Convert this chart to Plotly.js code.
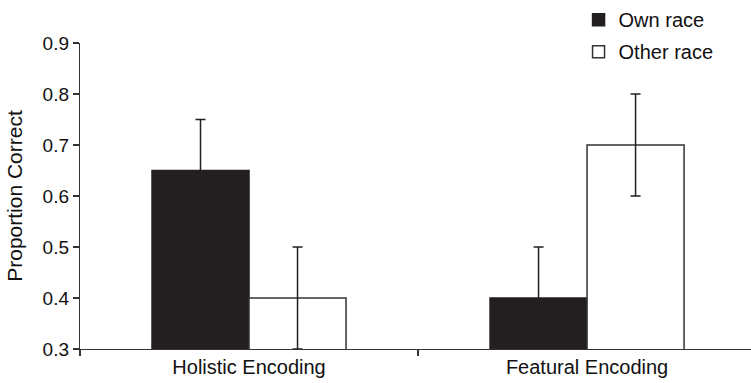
<!DOCTYPE html>
<html>
<head>
<meta charset="utf-8">
<script src="https://cdn.plot.ly/plotly-3.0.1.min.js"></script>
<style>html,body{margin:0;padding:0;background:#fff;}#chart{width:751px;height:383px;}</style>
</head>
<body>
<div id="chart"></div>
<script>
var categories = ["Holistic Encoding", "Featural Encoding"];
var ownRace = [0.65, 0.40];
var ownRaceErr = [0.10, 0.10];
var otherRace = [0.40, 0.70];
var otherRaceErr = [0.10, 0.10];
var seriesNames = ["Own race", "Other race"];
var yTicks = [0.3, 0.4, 0.5, 0.6, 0.7, 0.8, 0.9];

var FONT = "Liberation Sans, Arial, Helvetica, sans-serif";
var INK = "#231f20";

var traces = [
  {
    type: "bar", name: seriesNames[0], x: categories, y: ownRace,
    marker: {color: INK, line: {color: INK, width: 1.5}},
    error_y: {type: "data", array: ownRaceErr, visible: true, color: INK, thickness: 1.5, width: 5},
    legendgroup: "a"
  },
  {
    type: "bar", name: seriesNames[1], x: categories, y: otherRace,
    marker: {color: "#ffffff", line: {color: "#333333", width: 1.5}},
    error_y: {type: "data", array: otherRaceErr, visible: true, color: INK, thickness: 1.5, width: 5},
    legendgroup: "b"
  }
];

var layout = {
  width: 751, height: 383,
  margin: {l: 80, r: 0, t: 41, b: 34},
  paper_bgcolor: "#ffffff", plot_bgcolor: "#ffffff",
  font: {family: FONT, size: 19, color: "#111111"},
  barmode: "group", bargap: 0.426, bargroupgap: 0,
  showlegend: true,
  legend: {
    x: 0.743, y: 1.14, xanchor: "left", yanchor: "top",
    font: {family: FONT, size: 20, color: "#111111"},
    tracegroupgap: 3, bgcolor: "rgba(0,0,0,0)"
  },
  xaxis: {
    type: "category", range: [-0.5, 1.485],
    tickson: "boundaries", ticks: "outside", ticklen: 6, tickwidth: 1.2, tickcolor: "#333333",
    showline: true, linecolor: "#333333", linewidth: 1.2,
    showgrid: false, zeroline: false,
    tickfont: {family: FONT, size: 20, color: "#111111"}
  },
  yaxis: {
    range: [0.3, 0.9], tickvals: yTicks, ticktext: yTicks.map(function(v){return v.toFixed(1);}),
    ticks: "outside", ticklen: 6, tickwidth: 1.2, tickcolor: "#333333",
    showline: true, linecolor: "#333333", linewidth: 1.2,
    showgrid: false, zeroline: false,
    tickfont: {family: FONT, size: 19, color: "#111111"},
    title: {text: "Proportion Correct", font: {family: FONT, size: 21, color: "#111111"}, standoff: 14}
  }
};

Plotly.newPlot("chart", traces, layout, {displayModeBar: false, staticPlot: true});
</script>
</body>
</html>
